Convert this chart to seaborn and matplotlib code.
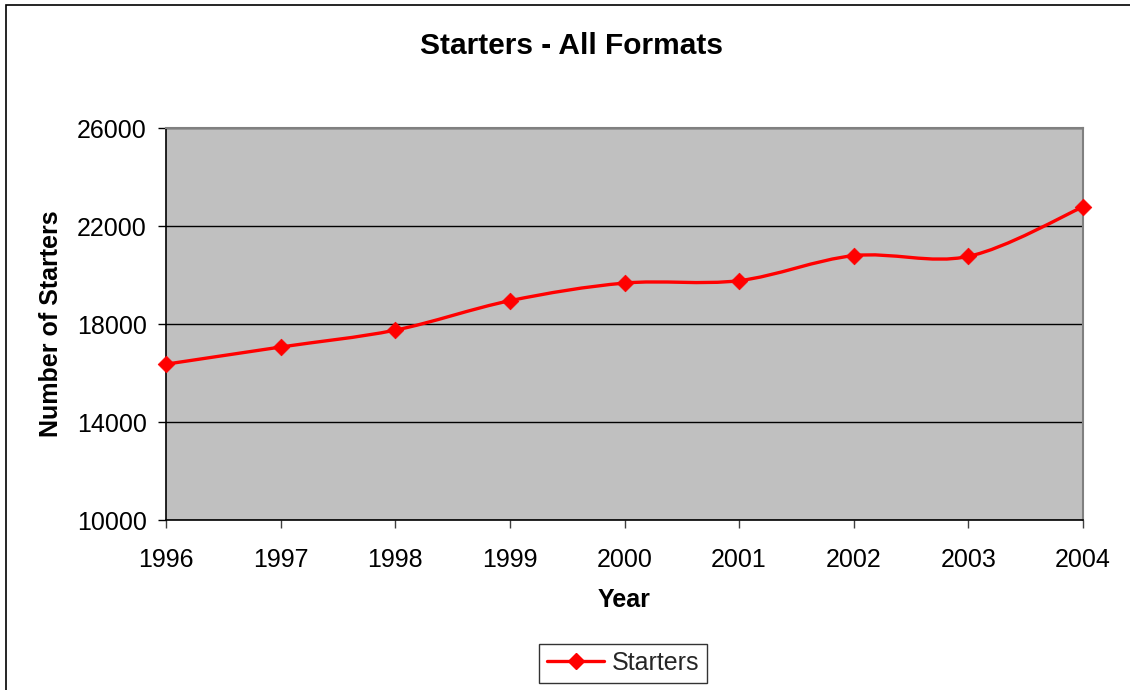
import numpy as np
import pandas as pd
import matplotlib
matplotlib.use("Agg")
import matplotlib.pyplot as plt
from matplotlib.path import Path
from matplotlib.patches import PathPatch, Rectangle
from matplotlib.lines import Line2D
import seaborn as sns

# Data
years = [1996, 1997, 1998, 1999, 2000, 2001, 2002, 2003, 2004]
starters = [16360, 17060, 17750, 18950, 19670, 19770, 20790, 20760, 22780]
y_ticks = [10000, 14000, 18000, 22000, 26000]

df = pd.DataFrame({"Year": years, "Starters": starters})

sns.set_theme(style="white")
plt.rcParams["font.family"] = ["Liberation Sans", "DejaVu Sans"]

fig = plt.figure(figsize=(11.3, 6.9), dpi=100)
ax = fig.add_axes([166 / 1130, 1 - 520 / 690, 917 / 1130, 392 / 690])
ax.set_facecolor("#C0C0C0")

# Outer chart frame
fig.patches.append(Rectangle((6 / 1130, -0.2), 1.2, 1.2 - 5 / 690,
                             transform=fig.transFigure, fill=False,
                             edgecolor="#000000", linewidth=1.2, zorder=0))

# Smoothed connecting line (cubic Bezier through each point)
xs = np.asarray(df["Year"], dtype=float)
ys = np.asarray(df["Starters"], dtype=float)
n = len(xs)
verts = [(xs[0], ys[0])]
codes = [Path.MOVETO]
for i in range(n - 1):
    p0 = np.array([xs[max(i - 1, 0)], ys[max(i - 1, 0)]])
    p1 = np.array([xs[i], ys[i]])
    p2 = np.array([xs[i + 1], ys[i + 1]])
    p3 = np.array([xs[min(i + 2, n - 1)], ys[min(i + 2, n - 1)]])
    c1 = p1 + (p2 - p0) / 6.0
    c2 = p2 - (p3 - p1) / 6.0
    verts += [tuple(c1), tuple(c2), tuple(p2)]
    codes += [Path.CURVE4] * 3
ax.add_patch(PathPatch(Path(verts, codes), facecolor="none",
                       edgecolor="#FF0000", linewidth=2.4, zorder=3,
                       capstyle="round", joinstyle="round"))

sns.scatterplot(data=df, x="Year", y="Starters", marker="D", s=72,
                color="#FF0000", edgecolor="#FF0000", linewidth=0.5,
                ax=ax, zorder=4, legend=False, clip_on=False)

ax.set_xlim(1996, 2004)
ax.set_ylim(10000, 26000)
ax.set_xticks(years)
ax.set_xticklabels([str(y) for y in years])
ax.set_yticks(y_ticks)
ax.set_yticklabels([str(v) for v in y_ticks])

ax.grid(axis="y", color="#000000", linewidth=1.0)
ax.grid(axis="x", visible=False)
ax.set_axisbelow(True)

for side in ("left", "bottom"):
    ax.spines[side].set_color("#000000")
    ax.spines[side].set_linewidth(1.2)
for side in ("top", "right"):
    ax.spines[side].set_color("#808080")
    ax.spines[side].set_linewidth(1.5)

ax.tick_params(axis="y", direction="out", length=6, width=1, color="#000000",
               labelsize=18, pad=8, left=True)
ax.tick_params(axis="x", direction="out", length=6, width=1, color="#404040",
               labelsize=18, pad=14, bottom=True)
for lab in ax.get_xticklabels() + ax.get_yticklabels():
    lab.set_color("#000000")

ax.set_xlabel("Year", fontsize=18, fontweight="bold", labelpad=12, color="#000000")
ax.set_ylabel("Number of Starters", fontsize=18, fontweight="bold",
              labelpad=10, color="#000000")

fig.text(572 / 1130, 1 - 46 / 690, "Starters - All Formats", ha="center",
         va="center", fontsize=21.5, fontweight="bold", color="#000000")

handle = Line2D([], [], color="#FF0000", linewidth=2.4, marker="D",
                markersize=8.5, markerfacecolor="#FF0000",
                markeredgecolor="#FF0000")
leg = fig.legend(handles=[handle], labels=["Starters"], loc="center",
                 bbox_to_anchor=(623 / 1130, 1 - 663 / 690), fontsize=18,
                 frameon=True, fancybox=False, handlelength=2.3,
                 handletextpad=0.3, borderpad=0.3, borderaxespad=0)
leg.get_frame().set_edgecolor("#000000")
leg.get_frame().set_linewidth(1.0)
leg.get_frame().set_facecolor("#FFFFFF")

fig.savefig("out.png", dpi=100, facecolor="#FFFFFF")
